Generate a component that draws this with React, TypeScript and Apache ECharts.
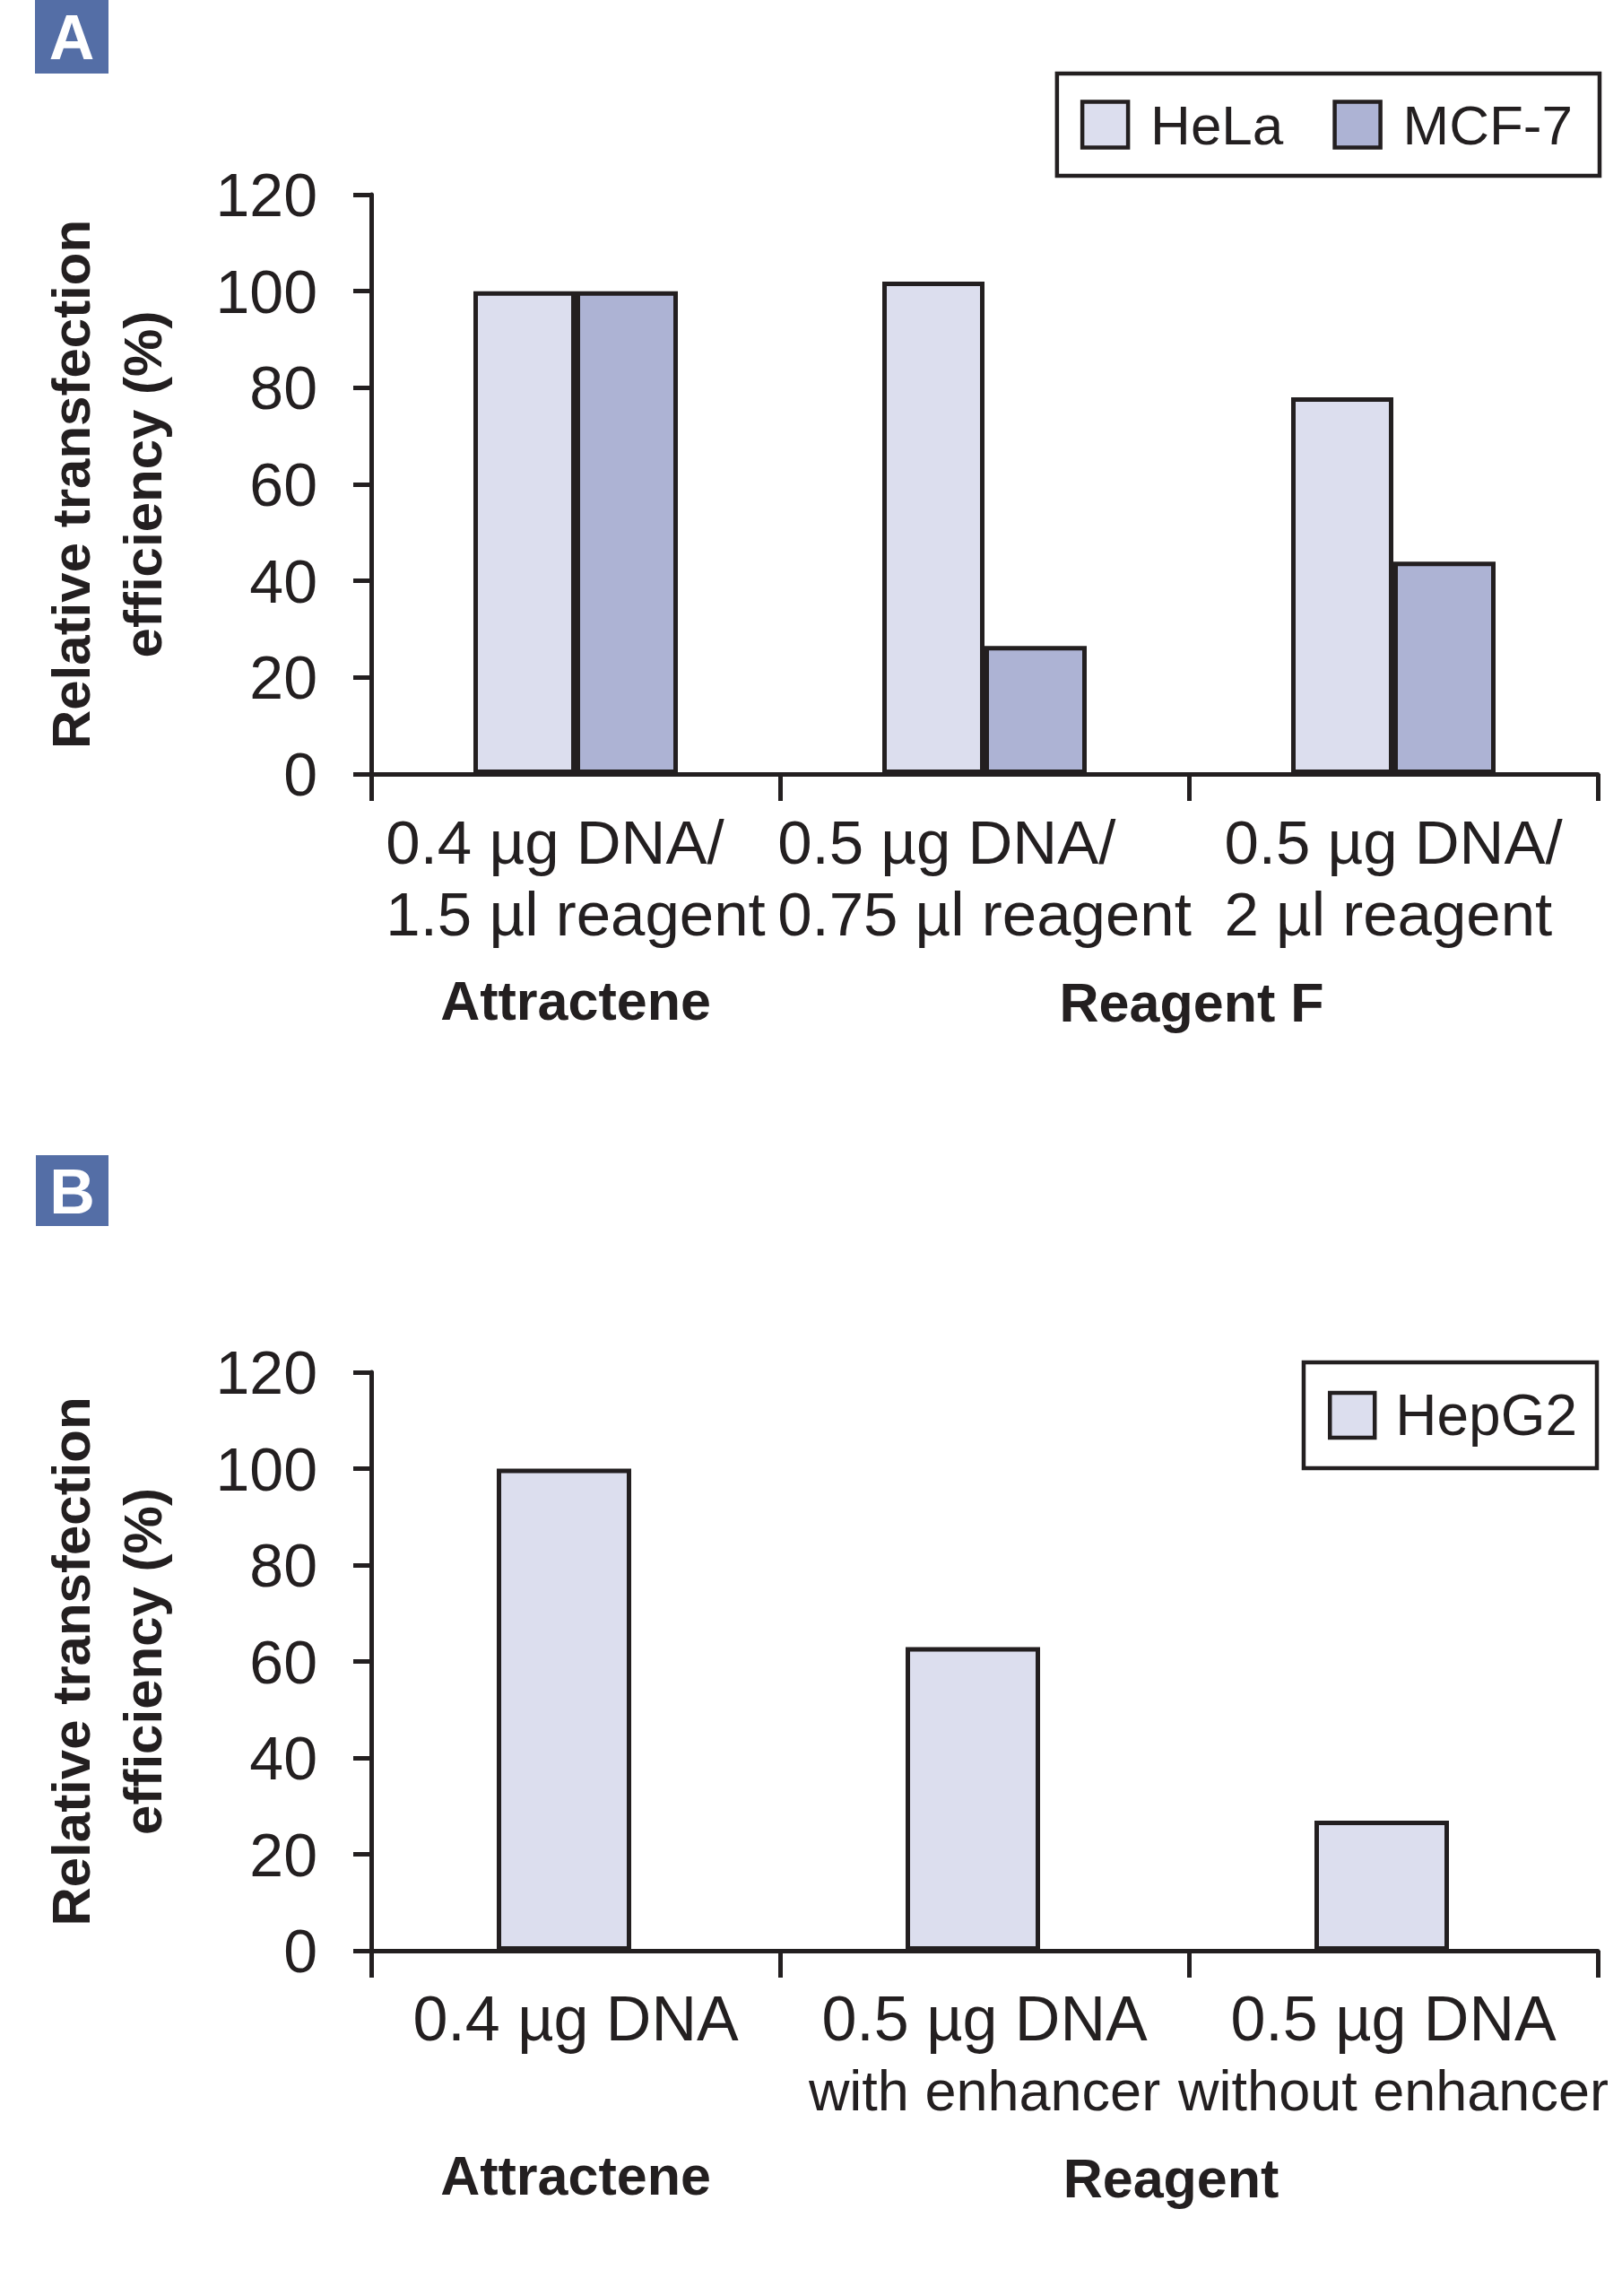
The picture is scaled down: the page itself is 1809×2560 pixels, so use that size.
import React, { useEffect, useRef } from "react";
import * as echarts from "echarts";

// ---- data ----
const categoriesA = [
  "0.4 µg DNA/\n1.5 µl reagent",
  "0.5 µg DNA/\n0.75 µl reagent",
  "0.5 µg DNA/\n2 µl reagent",
];
const helaValues = [100, 102, 78];
const mcf7Values = [100, 26.5, 44];

const categoriesB = ["0.4 µg DNA", "0.5 µg DNA\nwith enhancer", "0.5 µg DNA\nwithout enhancer"];
const hepg2Values = [100, 63, 27];

const yMin = 0;
const yMax = 120;
const yInterval = 20;

const yAxisTitle = "Relative transfection\nefficiency (%)";
const groupLabelsA = ["Attractene", "Reagent F"];
const groupLabelsB = ["Attractene", "Reagent"];
const panelLetters = ["A", "B"];
const seriesNames = ["HeLa", "MCF-7", "HepG2"];

// ---- styles ----
const INK = "#231F20";
const HELA = "#DCDEEE";
const MCF7 = "#ADB3D4";
const PANEL = "#546EA6";
const FONT = "'Liberation Sans', Arial, sans-serif";

function valueAxis(gridIndex: number, show = true) {
  return {
    type: "value",
    gridIndex,
    min: yMin,
    max: yMax,
    interval: yInterval,
    show,
    name: show ? yAxisTitle : "",
    nameLocation: "middle",
    nameRotate: 90,
    nameGap: 215,
    nameTextStyle: {
      fontFamily: FONT,
      fontWeight: "bold",
      fontSize: 60,
      lineHeight: 80,
      color: INK,
    },
    axisLine: { show: true, lineStyle: { color: INK, width: 5 } },
    axisTick: { show: true, length: 20, lineStyle: { color: INK, width: 5 } },
    axisLabel: { margin: 60, fontFamily: FONT, fontSize: 68, color: INK },
    splitLine: { show: false },
  };
}

function categoryAxis(
  gridIndex: number,
  data: string[],
  leftAlignLines: boolean,
  size1: number,
  size2: number,
  show = true
) {
  return {
    type: "category",
    gridIndex,
    data,
    show,
    boundaryGap: true,
    axisLine: { show: true, lineStyle: { color: INK, width: 5 } },
    axisTick: { show: true, length: 30, lineStyle: { color: INK, width: 5 } },
    axisLabel: {
      interval: 0,
      margin: 36,
      color: INK,
      fontFamily: FONT,
      fontSize: size1,
      lineHeight: 80,
      formatter: (v: string) =>
        v
          .split("\n")
          .map((line, i) => `{${i === 0 ? "a" : "b"}|${line}}`)
          .join("\n"),
      rich: {
        a: {
          align: leftAlignLines ? "left" : "center",
          fontFamily: FONT,
          fontSize: size1,
          lineHeight: 80,
          color: INK,
        },
        b: {
          align: leftAlignLines ? "left" : "center",
          fontFamily: FONT,
          fontSize: size2,
          lineHeight: 80,
          color: INK,
        },
      },
    },
    splitLine: { show: false },
  };
}

function groupText(text: string, x: number, y: number) {
  return {
    type: "text",
    x,
    y,
    style: {
      text,
      fill: INK,
      font: `bold 61px ${FONT}`,
      align: "center",
      verticalAlign: "middle",
    },
  };
}

function panelBox(letter: string, x: number, y: number, w: number, h: number) {
  return {
    type: "group",
    children: [
      { type: "rect", shape: { x, y, width: w, height: h }, style: { fill: PANEL } },
      {
        type: "text",
        x: x + w / 2,
        y: y + h / 2 + 1,
        style: {
          text: letter,
          fill: "#FFFFFF",
          font: `bold 70px ${FONT}`,
          align: "center",
          verticalAlign: "middle",
        },
      },
    ],
  };
}

export default function App() {
  const ref = useRef<HTMLDivElement>(null);

  useEffect(() => {
    if (!ref.current) return;
    const chart = echarts.init(ref.current, undefined, { renderer: "svg" });

    const barBorder = { borderColor: INK, borderWidth: 5 };

    chart.setOption({
      animation: false,
      backgroundColor: "#FFFFFF",
      textStyle: { fontFamily: FONT, color: INK },
      grid: [
        { left: 414, right: 27, top: 217, height: 646, containLabel: false },
        { left: 414, right: 27, top: 1530, height: 645, containLabel: false },
        { left: 401, right: 40, top: 1530, height: 645, containLabel: false },
      ],
      xAxis: [
        categoryAxis(0, categoriesA, true, 69, 69),
        categoryAxis(1, categoriesB, false, 70, 63),
        categoryAxis(2, categoriesB, false, 70, 63, false),
      ],
      yAxis: [valueAxis(0), valueAxis(1), valueAxis(2, false)],
      legend: [
        {
          data: [seriesNames[0], seriesNames[1]],
          right: 25,
          top: 82,
          orient: "horizontal",
          icon: "rect",
          padding: [26, 30, 26, 26],
          itemWidth: 51,
          itemHeight: 51,
          itemGap: 55,
          borderColor: INK,
          borderWidth: 4.5,
          itemStyle: { borderColor: INK, borderWidth: 4.5 },
          textStyle: { fontFamily: FONT, fontSize: 62, color: INK, padding: [0, 0, 0, 20] },
        },
        {
          data: [seriesNames[2]],
          right: 28,
          top: 1519,
          orient: "horizontal",
          icon: "rect",
          padding: [27, 22, 27, 27],
          itemWidth: 50,
          itemHeight: 50,
          borderColor: INK,
          borderWidth: 4.5,
          itemStyle: { borderColor: INK, borderWidth: 4.5 },
          textStyle: { fontFamily: FONT, fontSize: 64, color: INK, padding: [0, 0, 0, 18] },
        },
      ],
      series: [
        {
          name: seriesNames[0],
          type: "bar",
          xAxisIndex: 0,
          yAxisIndex: 0,
          data: helaValues,
          barWidth: "25%",
          barGap: "0%",
          itemStyle: { color: HELA, ...barBorder },
        },
        {
          name: seriesNames[1],
          type: "bar",
          xAxisIndex: 0,
          yAxisIndex: 0,
          data: mcf7Values,
          barWidth: "25%",
          barGap: "0%",
          itemStyle: { color: MCF7, ...barBorder },
        },
        {
          name: seriesNames[2],
          type: "bar",
          xAxisIndex: 2,
          yAxisIndex: 2,
          data: hepg2Values,
          barWidth: 150,
          itemStyle: { color: HELA, ...barBorder },
        },
      ],
      graphic: [
        panelBox(panelLetters[0], 39, 0, 82, 82),
        panelBox(panelLetters[1], 40, 1288, 81, 79),
        groupText(groupLabelsA[0], 642, 1116),
        groupText(groupLabelsA[1], 1329, 1118),
        groupText(groupLabelsB[0], 642, 2426),
        groupText(groupLabelsB[1], 1306, 2429),
      ],
    });

    return () => chart.dispose();
  }, []);

  return (
    <div
      ref={ref}
      style={{ position: "absolute", left: 0, top: 0, width: 1809, height: 2560, background: "#fff" }}
    />
  );
}
